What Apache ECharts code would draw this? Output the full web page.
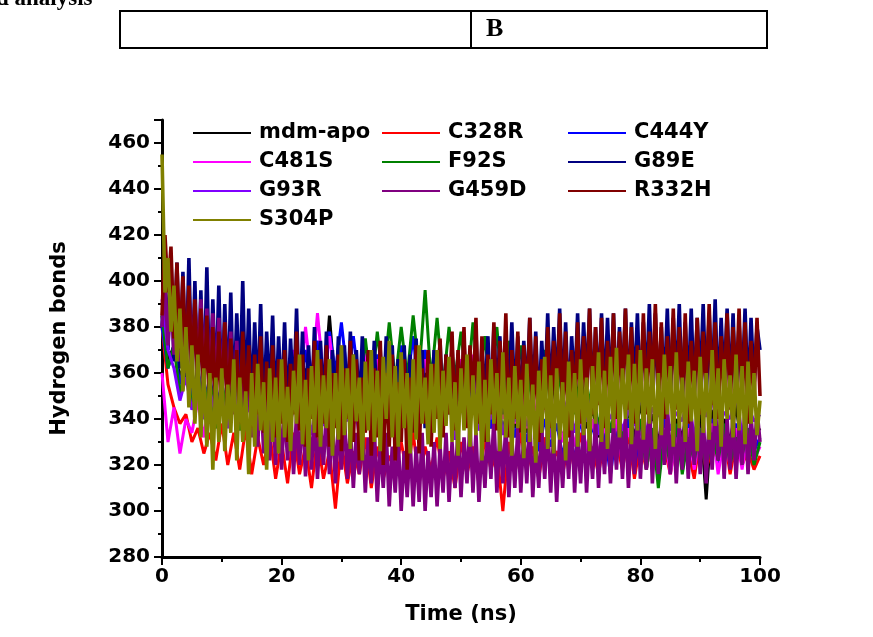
<!DOCTYPE html>
<html>
<head>
<meta charset="utf-8">
<script src="https://cdn.jsdelivr.net/npm/echarts@6/dist/echarts.min.js"></script>
<style>
html,body{margin:0;padding:0;background:#fff;}
#chart{width:873px;height:637px;}
</style>
</head>
<body>
<div id="chart"></div>
<script>
// Series names (legend order) and colours
const seriesNames = ['mdm-apo','C328R','C444Y','C481S','F92S','G89E','G93R','G459D','R332H','S304P'];
const seriesColors = ['#000000','#FF0000','#0000FF','#FF00FF','#008000','#000080','#8000FF','#800080','#800000','#808000'];
const xTicks = [0,20,40,60,80,100];
const yTicks = [280,300,320,340,360,380,400,420,440,460];

// Hydrogen bond counts, sampled evenly over 0–100 ns (1 ns or 0.5 ns steps)
const mdmApo = [
385,365,372,358,366,352,360,348,356,344,
354,342,352,340,356,344,350,338,354,342,
356,344,358,346,362,348,366,350,385,352,
368,348,364,346,360,344,358,342,362,346,
366,348,362,344,360,346,356,342,358,344,
354,340,356,338,352,336,350,334,348,336,
350,334,346,332,348,336,344,330,346,334,
348,336,344,332,350,334,346,330,344,332,
346,334,342,330,344,328,340,332,346,330,
342,305,344,328,340,330,346,326,342,332,
336];
const c328r = [
380,355,345,338,342,330,336,325,334,322,
338,320,334,318,336,316,332,320,334,314,
330,312,334,316,328,310,332,314,326,301,
330,312,326,316,332,310,328,314,324,318,
330,316,334,312,328,318,332,314,326,310,
330,316,328,312,332,318,326,300,330,316,
334,318,328,314,332,320,326,316,330,318,
334,320,328,316,332,322,330,318,334,314,
330,318,334,322,328,316,332,320,326,314,
332,318,328,322,334,316,330,320,326,318,
324];
const c444y = [
380,362,372,355,368,350,362,346,358,342,
356,340,358,338,354,342,360,338,356,344,
362,346,366,350,370,352,374,356,378,360,
382,358,376,354,372,356,368,352,366,354,
372,356,376,352,370,350,364,346,360,344,
358,342,354,340,352,336,350,334,346,332,
344,330,342,326,340,328,338,324,336,322,
340,326,338,322,334,316,336,324,340,318,
338,322,336,326,340,320,334,324,338,322,
336,326,340,320,334,324,338,322,336,326,
332];
const c481s = [
360,330,345,325,340,334,348,332,350,336,
352,338,356,340,358,342,360,344,362,346,
366,348,370,352,380,356,386,358,376,354,
372,350,368,348,370,352,366,346,364,350,
368,348,364,346,366,350,362,344,360,348,
366,346,368,344,362,342,358,340,356,338,
354,336,350,334,348,332,346,330,344,328,
342,326,340,324,338,322,340,320,336,324,
338,318,334,322,336,316,332,320,336,318,
334,322,338,316,332,320,336,318,334,322,
328];
const f92s = [
385,362,372,350,365,345,360,340,358,336,
356,338,360,335,354,340,358,334,352,338,
356,336,360,340,354,342,362,338,358,344,
364,346,368,350,375,352,378,355,382,356,
380,358,385,360,396,356,384,354,380,358,
378,352,382,356,376,350,380,348,374,352,
372,346,368,350,370,344,366,348,364,342,
360,340,356,336,352,334,348,330,346,328,
340,318,336,310,334,320,338,316,332,322,
336,318,334,322,338,320,332,324,336,320,
330];
const g89e = [
380,405,370,410,365,408,362,404,358,410,
355,400,352,396,350,406,348,392,350,398,
346,390,348,395,344,386,350,400,345,388,
342,382,346,390,340,378,348,385,342,376,
344,382,340,375,346,388,342,378,338,372,
345,380,340,374,344,378,338,370,342,376,
340,372,344,378,338,370,342,376,336,368,
342,374,338,370,344,376,340,372,336,366,
342,372,338,368,344,375,340,370,336,366,
340,370,344,374,338,368,342,372,340,368,
344,374,340,370,346,378,342,372,348,376,
344,380,348,376,342,372,350,382,346,376,
344,374,350,384,346,378,342,374,350,386,
346,380,352,388,348,382,344,376,352,386,
348,382,354,388,346,380,352,386,348,384,
350,386,346,380,354,388,348,382,352,386,
346,382,354,390,350,386,346,380,352,388,
348,384,354,390,346,382,352,388,348,384,
354,390,348,386,352,392,346,384,354,388,
350,386,346,382,352,388,348,384,354,380,
370];
const g93r = [
392,370,362,348,358,344,354,340,352,342,
350,336,354,338,346,342,352,332,346,340,
349,335,344,341,353,333,347,337,351,338,
343,339,352,332,345,341,349,335,346,337,
351,333,347,342,350,336,343,339,352,331,
345,341,349,335,343,340,351,333,347,339,
346,337,344,336,352,332,345,341,350,334,
343,339,351,333,348,340,346,335,344,337,
352,333,345,341,350,335,343,339,351,332,
347,341,349,334,343,340,352,333,346,339,
342];
const g459d = [
380,400,372,395,368,398,365,392,360,395,
362,390,358,392,355,388,352,386,350,384,
348,382,345,378,342,374,338,370,335,365,
332,360,328,356,325,352,322,350,320,348,
318,346,322,344,316,342,320,345,315,340,
318,342,314,338,320,344,316,340,312,338,
318,342,314,336,310,334,316,338,308,332,
312,336,304,330,310,334,302,328,308,332,
300,326,306,330,302,328,304,334,300,326,
306,330,302,328,308,334,304,330,310,336,
306,332,312,338,308,334,304,330,310,336,
314,340,308,334,312,338,306,332,310,336,
308,334,312,340,306,330,310,336,314,338,
308,334,304,332,310,336,314,340,308,334,
312,338,308,334,314,340,310,336,316,342,
312,338,318,344,314,340,310,336,316,346,
314,340,318,348,312,338,316,344,320,346,
316,342,312,338,318,346,314,340,320,344,
316,342,312,340,318,346,322,348,314,340,
318,344,314,338,320,346,316,342,322,344,
330];
const r332h = [
385,420,395,415,375,408,370,402,362,398,
358,392,352,388,348,385,345,380,342,378,
345,382,340,375,348,370,338,378,344,372,
336,368,342,376,334,365,340,372,332,366,
338,370,330,364,342,378,335,368,328,362,
340,374,332,366,338,372,328,360,336,368,
326,362,340,374,330,366,322,358,334,370,
324,362,332,374,320,360,328,368,322,356,
330,366,318,358,334,372,325,362,338,370,
328,364,340,375,332,368,342,378,335,370,
344,380,336,372,346,384,338,376,330,368,
342,382,335,374,348,386,332,370,340,378,
334,372,346,384,338,376,330,366,344,380,
336,374,348,386,340,378,332,370,345,382,
338,376,350,388,342,380,346,384,336,374,
348,386,340,378,352,388,344,380,338,372,
350,386,342,378,354,390,346,382,340,376,
352,388,344,380,348,386,338,374,350,384,
342,378,354,390,346,382,340,376,350,386,
344,380,352,388,346,382,338,374,348,384,
350];
const s304p = [
455,395,410,378,398,365,388,352,380,345,
372,338,368,332,362,328,360,318,358,330,
362,326,355,334,366,322,358,330,352,316,
360,328,364,335,356,318,362,330,358,325,
366,332,354,326,361,338,368,329,357,322,
363,334,370,328,359,336,366,324,360,331,
372,333,362,327,368,339,358,322,365,335,
370,330,361,326,367,340,374,332,363,328,
369,336,360,325,366,331,372,338,358,329,
364,334,370,327,361,337,367,330,356,324,
362,335,368,328,359,333,365,322,357,330,
366,338,360,326,369,332,358,324,363,336,
357,323,364,330,355,321,361,334,367,327,
359,325,362,331,356,322,365,335,360,328,
366,333,358,326,363,338,369,330,361,327,
367,336,371,332,362,340,368,329,364,335,
370,331,362,338,366,327,360,333,368,342,
363,328,369,336,358,330,365,339,361,326,
367,334,360,331,370,337,362,328,366,340,
359,332,368,335,363,329,365,338,360,333,
348];

const seriesValues = [mdmApo,c328r,c444y,c481s,f92s,g89e,g93r,g459d,r332h,s304p];
const timeSpanNs = 100;

function toPairs(vals){
  const step = timeSpanNs/(vals.length-1);
  return vals.map((v,i)=>[i*step, v]);
}

const chart = echarts.init(document.getElementById('chart'), null, {renderer:'canvas'});
const FONT = 'DejaVu Sans';

const series = seriesNames.map((n,i)=>({
  name:n, type:'line', data:toPairs(seriesValues[i]),
  showSymbol:false, symbol:'none', sampling:null,
  lineStyle:{width: seriesValues[i].length > 150 ? 3.6 : 3, color:seriesColors[i], join:'miter', miterLimit:1.5},
  itemStyle:{color:seriesColors[i]},
  emphasis:{disabled:true}, animation:false
}));

function legendCol(names, left){
  return {
    orient:'vertical', left:left, top:117,
    data:names, icon:'rect', itemWidth:58, itemHeight:2,
    itemGap:7, selectedMode:false,
    textStyle:{fontFamily:FONT, fontWeight:'bold', fontSize:21, color:'#000', lineHeight:22, padding:[0,0,0,3]}
  };
}

const option = {
  backgroundColor:'#ffffff',
  animation:false,
  legend:[
    legendCol(['mdm-apo','C481S','G93R','S304P'],188),
    legendCol(['C328R','F92S','G459D'],377),
    legendCol(['C444Y','G89E','R332H'],563)
  ],
  grid:{left:162, right:113, top:120, bottom:80},
  xAxis:{
    type:'value', min:0, max:100, interval:20,
    name:'Time (ns)', nameLocation:'middle', nameGap:47,
    nameTextStyle:{fontFamily:FONT, fontWeight:'bold', fontSize:21, color:'#000'},
    axisLine:{show:true, onZero:false, lineStyle:{color:'#000', width:3}},
    axisTick:{show:true, length:8, lineStyle:{color:'#000', width:2}},
    minorTick:{show:true, splitNumber:2, length:5, lineStyle:{color:'#000', width:2}},
    axisLabel:{fontFamily:FONT, fontWeight:'bold', fontSize:20, color:'#000', margin:10,
      formatter:v=> xTicks.includes(v) ? String(v) : ''},
    splitLine:{show:false}
  },
  yAxis:{
    type:'value', min:280, max:470, interval:20,
    name:'Hydrogen bonds', nameLocation:'middle', nameGap:92, nameRotate:90,
    nameTextStyle:{fontFamily:FONT, fontWeight:'bold', fontSize:21, color:'#000'},
    axisLine:{show:true, onZero:false, lineStyle:{color:'#000', width:3}},
    axisTick:{show:true, length:8, lineStyle:{color:'#000', width:2}},
    minorTick:{show:true, splitNumber:2, length:4, lineStyle:{color:'#000', width:2}},
    axisLabel:{fontFamily:FONT, fontWeight:'bold', fontSize:20, color:'#000', margin:12,
      formatter:v=> yTicks.includes(v) ? String(v) : ''},
    splitLine:{show:false}
  },
  graphic:[
    {type:'text', left:-4, top:-12, style:{text:'d analysis', fontFamily:'Liberation Serif', fontWeight:'bold', fontSize:23, fill:'#000'}},
    {type:'rect', shape:{x:120, y:11, width:647, height:37}, style:{fill:'none', stroke:'#000', lineWidth:2}},
    {type:'line', shape:{x1:471, y1:11, x2:471, y2:48}, style:{stroke:'#000', lineWidth:2}},
    {type:'text', left:486, top:16, style:{text:'B', fontFamily:'Liberation Serif', fontWeight:'bold', fontSize:26, fill:'#000'}}
  ],
  series:series
};
chart.setOption(option);
</script>
</body>
</html>
